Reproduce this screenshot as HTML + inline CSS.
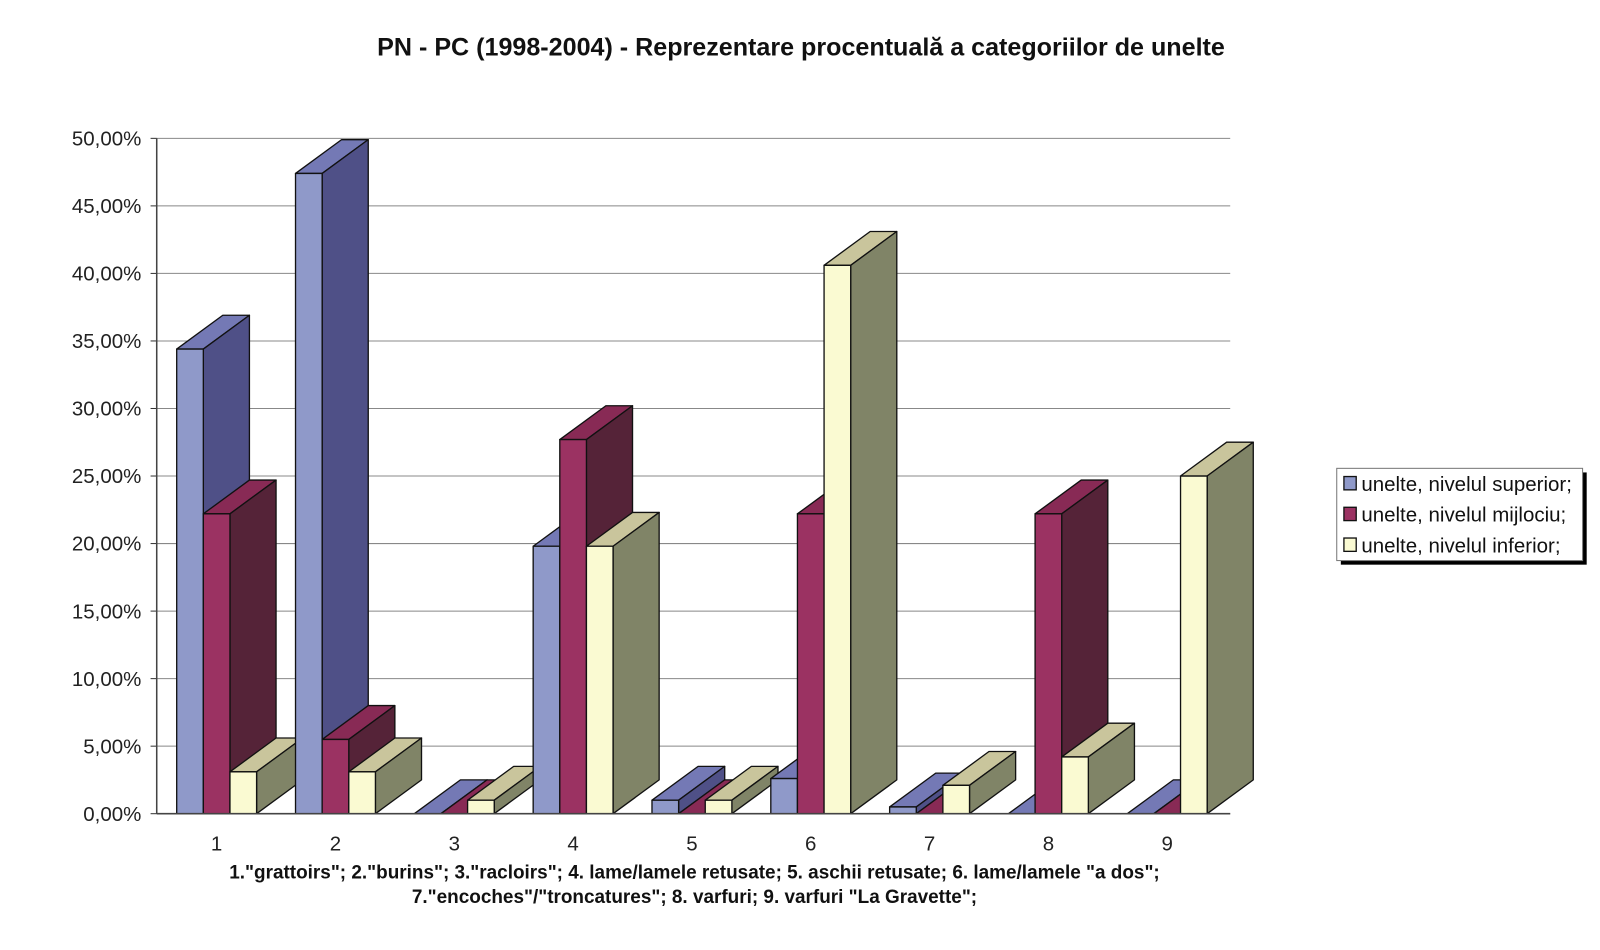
<!DOCTYPE html>
<html><head><meta charset="utf-8"><style>
body{margin:0;background:#fff;}
svg{display:block;font-family:"Liberation Sans",Arial,sans-serif;}
</style></head><body>
<svg id="chart" width="1600" height="950" viewBox="0 0 1562 927" preserveAspectRatio="none">
<text x="782" y="54" text-anchor="middle" font-size="24.5" font-weight="bold" fill="#111">PN - PC (1998-2004) - Reprezentare procentuală a categoriilor de unelte</text>
<g id="grid"></g>
<g id="bars"></g>
<g id="axes"></g>
<text x="678" y="857" text-anchor="middle" font-size="18.5" font-weight="bold" fill="#111">1."grattoirs"; 2."burins"; 3."racloirs"; 4. lame/lamele retusate; 5. aschii retusate; 6. lame/lamele "a dos";</text>
<text x="678" y="881" text-anchor="middle" font-size="18.5" font-weight="bold" fill="#111">7."encoches"/"troncatures"; 8. varfuri; 9. varfuri "La Gravette";</text>
<g>
<rect x="1309" y="461" width="240" height="90" fill="#000"/>
<rect x="1305" y="457" width="240" height="90" fill="#fff" stroke="#777" stroke-width="1"/>
<g id="legend-items"></g>
</g>
</svg>
<script>
const categories = ["1","2","3","4","5","6","7","8","9"];
const seriesNames = ["unelte, nivelul superior;","unelte, nivelul mijlociu;","unelte, nivelul inferior;"];
const superior = [34.4, 47.4, 0, 19.8, 1.0, 2.6, 0.5, 0, 0];
const mijlociu = [22.2, 5.5, 0, 27.7, 0, 22.2, 0, 22.2, 0];
const inferior = [3.1, 3.1, 1.0, 19.8, 1.0, 40.6, 2.1, 4.2, 25.0];
const yTicks = [0,5,10,15,20,25,30,35,40,45,50];
const yTickLabels = ["0,00%","5,00%","10,00%","15,00%","20,00%","25,00%","30,00%","35,00%","40,00%","45,00%","50,00%"];

const NS="http://www.w3.org/2000/svg";
const y0=794, y50=135, xL=153, xR=1201;
const yScale=v=>y0-(v/50)*(y0-y50);
const band=(1197-xL)/categories.length;
const xCenter=i=>xL+band*(i+0.5)-1.5;
const bw=26, dx=45, dy=33;
const colors=[
 {front:"#8f99c9",top:"#7479b5",side:"#4f5087"},
 {front:"#9b3262",top:"#882a55",side:"#552338"},
 {front:"#fafad2",top:"#c9c59c",side:"#808467"}];
const allSeries=[superior,mijlociu,inferior];

function mk(tag,attrs,parent){const e=document.createElementNS(NS,tag);for(const k in attrs)e.setAttribute(k,attrs[k]);parent.appendChild(e);return e;}
const grid=document.getElementById('grid'),axes=document.getElementById('axes'),bars=document.getElementById('bars');
yTicks.forEach((t,i)=>{
  const y=yScale(t);
  const l=mk('line',{x1:xL,x2:xR,y1:y,y2:y,stroke:"#888","stroke-width":1},grid);
  
  
  const tk=mk('line',{x1:xL-6,x2:xL,y1:y,y2:y,stroke:"#333","stroke-width":1},axes);
  
  
  const tx=mk('text',{x:xL-15,y:y+7,"text-anchor":"end","font-size":20,fill:"#222"},axes);
  tx.textContent=yTickLabels[i];
  
  
});
const ax=mk('line',{x1:xL,x2:xL,y1:y50,y2:y0,stroke:"#444","stroke-width":1.5},axes);


const bx=mk('line',{x1:xL,x2:xR,y1:y0,y2:y0,stroke:"#444","stroke-width":1.5},axes);


categories.forEach((c,i)=>{
  const tx=mk('text',{x:xCenter(i)+2,y:830,"text-anchor":"middle","font-size":20,fill:"#222"},axes);
  tx.textContent=c;
  
  
  allSeries.forEach((s,si)=>{
    const x=xCenter(i)-bw*1.5+si*bw+2, y=yScale(s[i]);
    const g=mk('g',{stroke:"#111","stroke-width":1.3,"stroke-linejoin":"round"},bars);
    
    
    mk('polygon',{points:`${x},${y} ${x+bw},${y} ${x+bw+dx},${y-dy} ${x+dx},${y-dy}`,fill:colors[si].top},g);
    mk('polygon',{points:`${x+bw},${y} ${x+bw+dx},${y-dy} ${x+bw+dx},${y0-dy} ${x+bw},${y0}`,fill:colors[si].side},g);
    mk('rect',{x:x,y:y,width:bw,height:y0-y,fill:colors[si].front},g);
  });
});
const li=document.getElementById('legend-items');
seriesNames.forEach((n,i)=>{
  const y=472+i*30;
  const r=mk('rect',{x:1312,y:y-7,width:12,height:13,fill:colors[i].front,stroke:"#111","stroke-width":1.3},li);
  
  
  const t=mk('text',{x:1329,y:y+7,"font-size":20,fill:"#111"},li);
  t.textContent=n;
  
  
});
</script>
</body></html>
